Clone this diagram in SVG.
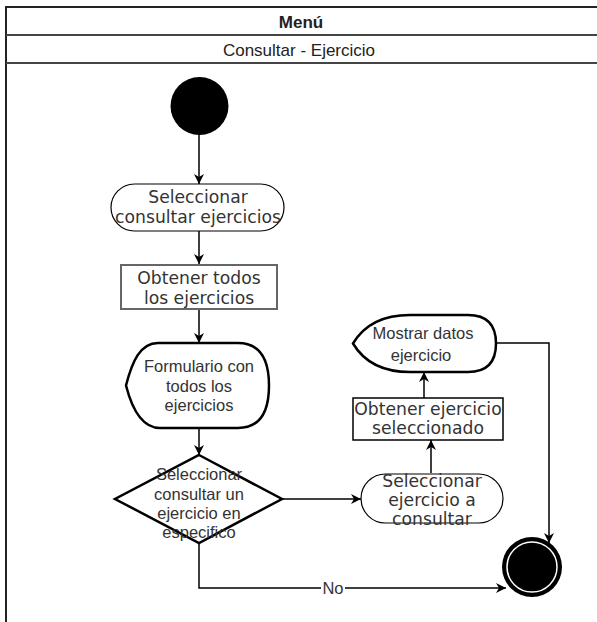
<svg xmlns="http://www.w3.org/2000/svg" width="597" height="622" viewBox="0 0 597 622">
  <style>
    .frame { fill: none; stroke: #222; stroke-width: 2; }
    .sep { stroke: #444; stroke-width: 2; }
    .hdr { font-family: "Liberation Sans", Arial, sans-serif; font-size: 17px; fill: #222; text-anchor: middle; }
    .vt { font-family: "DejaVu Sans", Verdana, sans-serif; font-size: 17.2px; fill: #333; text-anchor: middle; }
    .at { font-family: "Liberation Sans", Arial, sans-serif; font-size: 16.5px; fill: #333; text-anchor: middle; }
    .thin { fill: #fff; stroke: #000; stroke-width: 1.2; }
    .thick { fill: #fff; stroke: #000; stroke-width: 2.5; }
    .edge { fill: none; stroke: #000; stroke-width: 1.5; }
  </style>
  <defs>
    <marker id="arrow" markerWidth="12" markerHeight="10" refX="10" refY="5" orient="auto" markerUnits="userSpaceOnUse">
      <path d="M0,0 L10,5 L0,10 L3,5 Z" fill="#000"/>
    </marker>
  </defs>

  <rect width="597" height="622" fill="#fff"/>

  <!-- swimlane frame -->
  <g id="lane">
    <path class="frame" d="M6,622 L6,7 L597,7"/>
    <line class="sep" x1="6" y1="35" x2="597" y2="35"/>
    <line class="sep" x1="6" y1="63" x2="597" y2="63"/>
    <text class="hdr" x="301" y="28" font-weight="bold">Menú</text>
    <text class="hdr" x="299" y="56">Consultar - Ejercicio</text>
  </g>

  <!-- connectors -->
  <g id="connectors">
    <path class="edge" d="M199,135 L199,184" marker-end="url(#arrow)"/>
    <path class="edge" d="M199,231 L199,264" marker-end="url(#arrow)"/>
    <path class="edge" d="M199,309 L199,343" marker-end="url(#arrow)"/>
    <path class="edge" d="M199,428 L199,455" marker-end="url(#arrow)"/>
    <path class="edge" d="M282,499 L361,499" marker-end="url(#arrow)"/>
    <path class="edge" d="M431,473 L431,440" marker-end="url(#arrow)"/>
    <path class="edge" d="M424,398 L424,372" marker-end="url(#arrow)"/>
    <path class="edge" d="M496,343 L549,343 L549,543" marker-end="url(#arrow)"/>
    <path class="edge" d="M199,543 L199,588 L506,588" marker-end="url(#arrow)"/>
    <rect x="321" y="579" width="24" height="18" fill="#fff"/>
    <text class="at" x="333" y="594">No</text>
  </g>

  <g id="start">
    <circle cx="199.5" cy="106" r="29" fill="#000"/>
  </g>

  <g id="sel-consultar">
    <rect class="thin" x="111" y="184" width="173" height="47" rx="23.5"/>
    <text class="vt" x="198" y="203">Seleccionar</text>
    <text class="vt" x="198" y="223">consultar ejercicios</text>
  </g>

  <g id="obtener-todos">
    <rect x="121" y="265" width="156" height="44" fill="#fff" stroke="#666" stroke-width="2"/>
    <text class="vt" x="199" y="284">Obtener todos</text>
    <text class="vt" x="199" y="304">los ejercicios</text>
  </g>

  <g id="formulario">
    <path class="thick" d="M126,385.5 C132,362 140,343 158,343 L238,343 Q269,343 269,385.5 Q269,428 238,428 L160,428 C142,428 132,409 126,385.5 Z"/>
    <text class="at" x="199" y="372">Formulario con</text>
    <text class="at" x="199" y="392">todos los</text>
    <text class="at" x="199" y="411">ejercicios</text>
  </g>

  <g id="decision">
    <path class="thick" d="M199,455 L282,499 L199,543 L115,499 Z"/>
    <text class="at" x="199" y="480">Seleccionar</text>
    <text class="at" x="199" y="500">consultar un</text>
    <text class="at" x="199" y="519">ejercicio en</text>
    <text class="at" x="199" y="538">especifico</text>
  </g>

  <g id="sel-ejercicio">
    <rect class="thin" x="361" y="474" width="142" height="49" rx="24.5"/>
    <text class="vt" x="432" y="487">Seleccionar</text>
    <text class="vt" x="432" y="506">ejercicio a</text>
    <text class="vt" x="432" y="525">consultar</text>
  </g>

  <g id="obtener-seleccionado">
    <rect x="353" y="398" width="150" height="42" fill="#fff" stroke="#000" stroke-width="1.5"/>
    <text class="vt" x="428" y="415">Obtener ejercicio</text>
    <text class="vt" x="428" y="434">seleccionado</text>
  </g>

  <g id="mostrar">
    <path class="thick" d="M353,343.5 Q370,315 410,315 L468,315 Q496,315 496,343.5 Q496,372 468,372 L410,372 Q370,372 353,343.5 Z"/>
    <text class="at" x="423" y="339">Mostrar datos</text>
    <text class="at" x="421" y="361">ejercicio</text>
  </g>

  <g id="end">
    <circle cx="532" cy="567" r="30" fill="#000"/>
    <circle cx="532" cy="567" r="25" fill="none" stroke="#fff" stroke-width="1.5"/>
  </g>
</svg>
